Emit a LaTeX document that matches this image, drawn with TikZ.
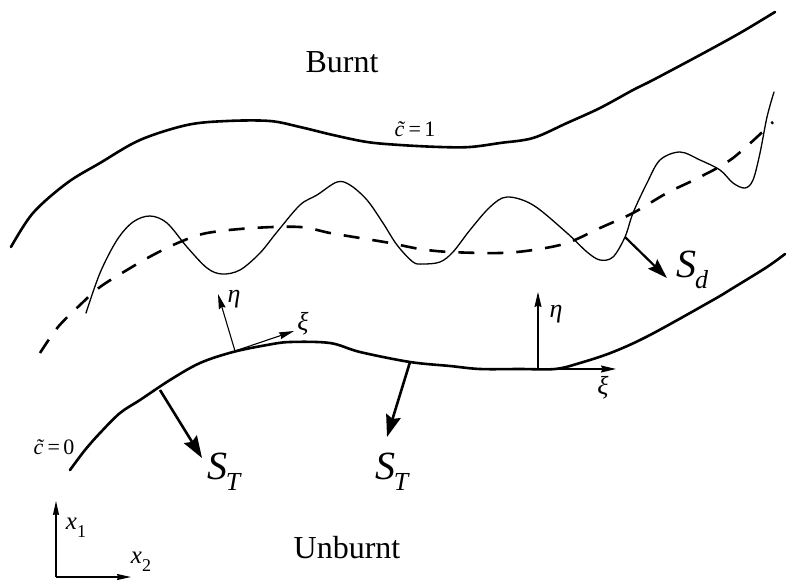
\documentclass[tikz,border=0pt]{standalone}
\usepackage{fontspec}
\setmainfont{Liberation Serif}
\usetikzlibrary{arrows.meta}
\newcommand{\fsz}[1]{\fontsize{#1}{#1}\selectfont}
\begin{document}
\begin{tikzpicture}[x=1pt,y=-1pt,
  front/.style={line width=2.6pt, line cap=round, line join=round},
  wavy/.style={line width=1.3pt, line cap=round, line join=round},
  mean/.style={line width=2.6pt, dash pattern=on 16pt off 13pt},
  bigarrow/.style={line width=2.6pt, -{Stealth[length=22pt,width=15pt,inset=3pt]}},
  smallarrow/.style={line width=1.1pt, -{Stealth[length=15pt,width=7pt,inset=1.5pt]}},
  axisarrow/.style={line width=1.2pt, -{Stealth[length=14pt,width=6pt,inset=1pt]}},
  lbl/.style={inner sep=0pt, outer sep=0pt},
]
\useasboundingbox (0,0) rectangle (793,579);

% upper front  c~=1
\draw[front] plot[smooth, tension=0.55] coordinates {
 (11,247) (33,213) (67,183) (100,163) (140,140) (187,125) (227,121) (270,121)
 (300,127) (333,135) (367,142) (400,145) (440,147) (470,147) (500,143) (533,138)
 (567,123) (600,108) (633,90) (653,80) (700,55) (740,33) (775,12)};

% lower front  c~=0
\draw[front] plot[smooth, tension=0.55] coordinates {
 (70,470) (85,450) (100,433) (120,413) (140,400) (170,380) (200,363) (233,352)
 (267,345) (290,342) (330,343) (360,352) (410,362) (450,366) (480,369) (520,369)
 (555,369) (580,363) (613,352) (650,335) (713,300) (733,288) (767,267) (785,254)};

% mean (dashed) surface
\draw[mean] plot[smooth, tension=0.55] coordinates {
 (40,353) (58,327) (80,305) (100,287) (127,270) (153,255) (180,242) (207,233)
 (253,228) (300,227) (330,233) (360,238) (390,243) (420,249) (450,252) (500,253)
 (533,250) (567,243) (600,228) (633,213) (667,193) (700,177) (733,158) (773,122)};

% instantaneous wrinkled flame
\draw[wavy] plot[smooth, tension=0.55] coordinates {
 (86,313) (100,273) (117,240) (133,222) (150,216) (167,223) (187,247) (207,268)
 (222,274) (240,270) (260,253) (277,232) (300,205) (317,195) (337,182) (350,185)
 (367,200) (383,223) (397,245) (413,262) (423,264) (440,262) (453,252) (470,230)
 (490,207) (507,197) (533,205) (567,233) (587,252) (600,260) (613,257) (625,237)
 (633,213) (647,183) (660,160) (680,152) (700,160) (720,170) (733,183) (745,188)
 (753,180) (760,153) (767,117) (774,92)};

% coordinates for arrows
\coordinate (etaA0) at (235,351);
\coordinate (etaA1) at (218,294);
\coordinate (xiA1) at (294,331);
\coordinate (etaB0) at (538,369);
\coordinate (etaB1) at (538,292);
\coordinate (xiB1) at (616,369);
\coordinate (sd0) at (625,237);
\coordinate (sd1) at (667,278);
\coordinate (stA0) at (160,390);
\coordinate (stA1) at (202,458);
\coordinate (stB0) at (410,362);
\coordinate (stB1) at (387,437);
\coordinate (orig) at (56,577);
\coordinate (x1e) at (56,501);
\coordinate (x2e) at (131,577);

\draw[smallarrow] (etaA0) -- (etaA1);
\draw[smallarrow] (etaA0) -- (xiA1);
\draw[smallarrow] (etaB0) -- (etaB1);
\draw[smallarrow] (etaB0) -- (xiB1);
\draw[line width=2.2pt, -{Stealth[length=20pt,width=13pt,inset=3pt]}] (sd0) -- (sd1);
\draw[bigarrow] (stA0) -- (stA1);
\draw[bigarrow] (stB0) -- (stB1);
\draw[axisarrow] (orig) -- (x1e);
\draw[axisarrow] (orig) -- (x2e);

% labels
\node[lbl, font=\fsz{32}] (burnt) at (342,62) {Burnt};
\node[lbl, font=\fsz{32}] (unburnt) at (347,548) {Unburnt};
\node[lbl, font=\fsz{22}] (c1) at (415,129) {{\itshape\~c}\hspace{0.2em}=\hspace{0.15em}1};
\node[lbl, font=\fsz{22}] (c0) at (54,447) {{\itshape\~c}\hspace{0.2em}=\hspace{0.15em}0};
\node[lbl, font=\fsz{26}\itshape] (etaAl) at (234,299) {η};
\node[lbl, font=\fsz{26}\itshape] (xiAl) at (303,324) {ξ};
\node[lbl, font=\fsz{26}\itshape] (etaBl) at (556,314) {η};
\node[lbl, font=\fsz{26}\itshape] (xiBl) at (603,388) {ξ};
\node[lbl, font=\fsz{40}\itshape] (sdl) at (692,270) {S\kern-1pt\raisebox{-0.28em}{\fsz{26}d}};
\node[lbl, font=\fsz{40}\itshape] (stAl) at (224,472) {S\kern-2pt\raisebox{-0.28em}{\fsz{26}T}};
\node[lbl, font=\fsz{40}\itshape] (stBl) at (392,472) {S\kern-2pt\raisebox{-0.28em}{\fsz{26}T}};
\node[lbl, font=\fsz{25}\itshape] (x1l) at (76,528) {x\raisebox{-0.3em}{\upshape\fsz{18}1}};
\node[lbl, font=\fsz{25}\itshape] (x2l) at (141,562) {x\raisebox{-0.3em}{\upshape\fsz{18}2}};
\end{tikzpicture}
\end{document}
